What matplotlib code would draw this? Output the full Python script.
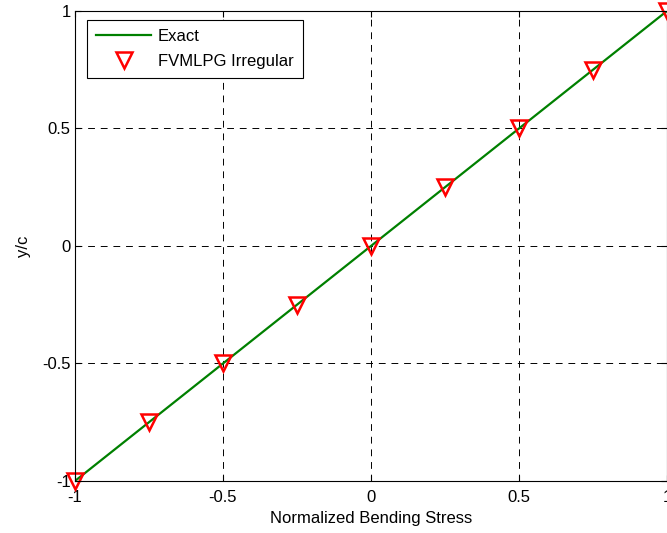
import matplotlib
matplotlib.use('Agg')
import matplotlib.pyplot as plt
import numpy as np

matplotlib.rcParams['font.family'] = ['Liberation Sans', 'DejaVu Sans']
matplotlib.rcParams['font.size'] = 12
matplotlib.rcParams['xtick.direction'] = 'in'
matplotlib.rcParams['ytick.direction'] = 'in'

# exact solution line
exact_x = [-1.0, 1.0]
exact_y = [-1.0, 1.0]

# FVMLPG irregular points
fv_x = [-1.0, -0.75, -0.5, -0.25, 0.0, 0.25, 0.5, 0.75, 1.0]
fv_y = [-1.0, -0.75, -0.5, -0.25, 0.0, 0.25, 0.5, 0.75, 1.0]

ticks = [-1, -0.5, 0, 0.5, 1]
tick_labels = ['-1', '-0.5', '0', '0.5', '1']

fig = plt.figure(figsize=(6.67, 5.33), dpi=100)
ax = fig.add_axes([0.1124, 0.0976, 0.8876, 0.8818])

ax.plot(exact_x, exact_y, color=(0, 0.5, 0), lw=1.6, label='Exact')
ax.plot(fv_x, fv_y, 'v', ms=11.5, mfc='none', mec='red', mew=1.8,
        label='FVMLPG Irregular', clip_on=False)

ax.set_xlim(-1, 1)
ax.set_ylim(-1, 1)
ax.set_xticks(ticks)
ax.set_xticklabels(tick_labels)
ax.set_yticks(ticks)
ax.set_yticklabels(tick_labels)
ax.tick_params(length=4, width=0.8, pad=3, top=True, right=True)
ax.tick_params(axis='x', pad=6.5)
ax.grid(True, color='black', ls=(0, (7, 6)), lw=0.7)

ax.set_xlabel('Normalized Bending Stress', labelpad=4)
ax.set_ylabel('y/c', labelpad=8)

leg = ax.legend(loc='upper left', bbox_to_anchor=(0.0203, 0.981), borderaxespad=0,
                fancybox=False, framealpha=1, edgecolor='black', borderpad=0.55,
                handlelength=3.3, handletextpad=0.4, labelspacing=0.6)
leg.get_frame().set_linewidth(0.8)

plt.savefig('out.png', dpi=100)
